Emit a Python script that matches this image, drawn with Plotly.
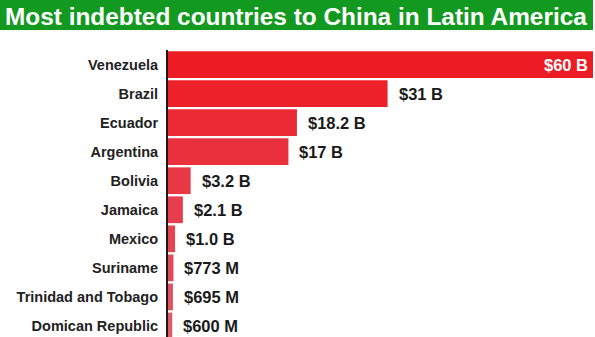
import plotly.graph_objects as go

countries = ["Venezuela", "Brazil", "Ecuador", "Argentina", "Bolivia", "Jamaica",
             "Mexico", "Suriname", "Trinidad and Tobago", "Domican Republic"]
values = [60, 31, 18.2, 17, 3.2, 2.1, 1.0, 0.773, 0.695, 0.600]
value_labels = ["$60 B", "$31 B", "$18.2 B", "$17 B", "$3.2 B", "$2.1 B",
                "$1.0 B", "$773 M", "$695 M", "$600 M"]
bar_colors = ["#ED1C24", "#EC212A", "#EB2A35", "#EA303D", "#E83845", "#E63E4C",
              "#E44553", "#E24B5A", "#E05260", "#DE5A67"]
title_text = "Most indebted countries to China in Latin America"

W, H = 595, 337
fig = go.Figure()
fig.add_trace(go.Bar(
    x=values, y=countries, orientation="h",
    marker=dict(color=bar_colors, line=dict(width=0)),
    hoverinfo="skip",
))

for i, (c, v, t) in enumerate(zip(countries, values, value_labels)):
    if i == 0:
        fig.add_annotation(x=v, y=c, text="<b>" + t + "</b>", xref="x", yref="y", showarrow=False,
                           xanchor="right", xshift=-3,
                           font=dict(family="Liberation Sans, Arial", size=16.5, color="white"))
    else:
        fig.add_annotation(x=v, y=c, text="<b>" + t + "</b>", xref="x", yref="y", showarrow=False,
                           xanchor="left", xshift=9,
                           font=dict(family="Liberation Sans, Arial", size=16.5, color="#1a1a1a"))

# Title bar
fig.add_shape(type="rect", xref="paper", yref="paper",
              x0=-168 / (W - 170), x1=1.0, y0=1 + (50 - 30) / (H - 50), y1=1 + 50 / (H - 50),
              fillcolor="#12991F", line=dict(width=0), layer="below")
fig.add_annotation(xref="paper", yref="paper", x=-165 / (W - 170), y=1 + 49 / (H - 50),
                   text="<b>" + title_text + "</b>", showarrow=False,
                   xanchor="left", yanchor="top",
                   font=dict(family="Liberation Sans, Arial", size=24.4, color="white"))

fig.update_layout(
    width=W, height=H,
    margin=dict(l=168, r=2, t=50, b=0),
    paper_bgcolor="white", plot_bgcolor="white",
    showlegend=False,
    bargap=0.08,
    xaxis=dict(range=[0, 60], visible=False, fixedrange=True),
    yaxis=dict(autorange=False, range=[9.38, -0.5], showline=True, linecolor="#1a1a1a",
               linewidth=2, ticks="", ticklabelstandoff=5, showgrid=False,
               tickfont=dict(family="Liberation Sans, Arial", size=14.5, color="#222222"),
               tickmode="array", tickvals=countries,
               ticktext=["<b>" + c + "</b>" for c in countries]),
)
fig.write_html("out.html")
